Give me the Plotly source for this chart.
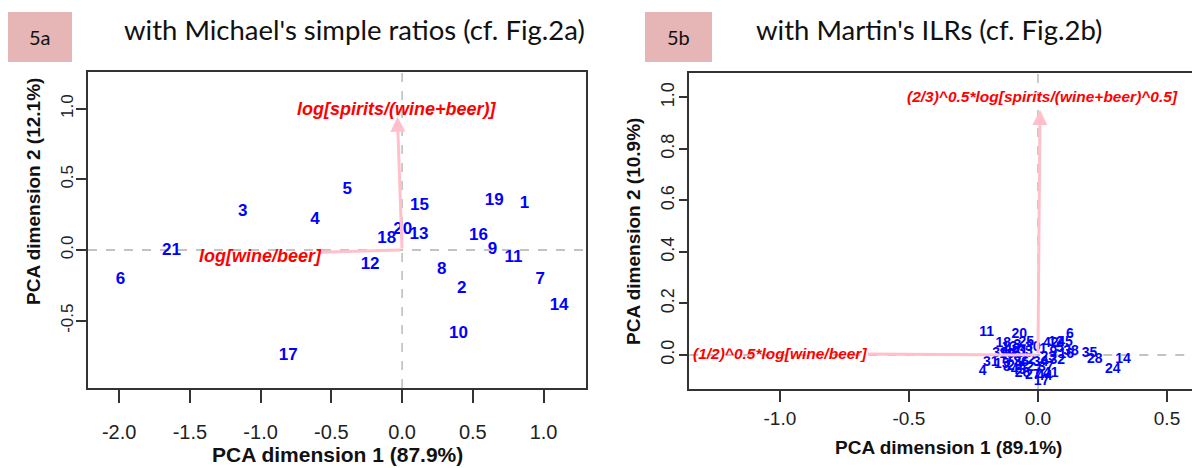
import plotly.graph_objects as go

# ---------------- data: panel 5a (simple ratios) ----------------
a_labels = ["1", "2", "3", "4", "5", "6", "7", "8", "9", "10", "11",
            "12", "13", "14", "15", "16", "17", "18", "19", "20", "21"]
a_pc1 = [0.865, 0.422, -1.127, -0.615, -0.387, -1.99, 0.976, 0.281, 0.639, 0.398, 0.787,
         -0.226, 0.12, 1.11, 0.123, 0.54, -0.804, -0.108, 0.651, 0.005, -1.63]
a_pc2 = [0.33, -0.271, 0.271, 0.212, 0.424, -0.212, -0.207, -0.137, 0.0, -0.589, -0.054,
         -0.106, 0.106, -0.394, 0.313, 0.099, -0.75, 0.078, 0.349, 0.141, -0.007]
a_var_names = ["log[wine/beer]", "log[spirits/(wine+beer)]"]
a_var_tip_x = [-0.58, -0.033]
a_var_tip_y = [-0.016, 0.943]
a_var_lab_x = [-1.0, -0.033]
a_var_lab_y = [-0.04, 0.995]

# ---------------- data: panel 5b (ILRs) ----------------
b_labels = ["11", "20", "18", "39", "31", "4", "35", "28", "14", "24", "6", "17",
            "26", "27", "15",
            "25", "13", "3", "19", "10", "21", "33", "8", "29", "36", "22", "40", "43", "2", "30",
            "42", "12", "45", "38", "16", "5", "9", "1", "23", "32", "34", "37", "41", "44", "7"]
b_pc1 = [-0.199, -0.072, -0.134, -0.147, -0.183, -0.214, 0.2, 0.22, 0.33, 0.29, 0.124, 0.014,
         -0.06, -0.02, -0.14,
         -0.045, -0.11, -0.08, -0.12, -0.095, -0.07, -0.05, -0.12, -0.09, -0.065, -0.04, -0.1,
         -0.075, -0.03, -0.02,
         0.05, 0.07, 0.105, 0.128, 0.11, 0.085, 0.06, 0.02, 0.04, 0.075, 0.01, 0.03, 0.05, 0.025, 0.0]
b_pc2 = [0.087, 0.078, 0.045, 0.007, -0.03, -0.065, 0.007, -0.019, -0.019, -0.058, 0.078, -0.104,
         -0.07, -0.078, -0.035,
         0.05, 0.03, 0.035, 0.0, -0.01, 0.01, 0.015, -0.05, -0.045, -0.03, -0.02, 0.02, -0.06,
         -0.05, 0.03,
         0.045, 0.05, 0.05, 0.012, 0.0, 0.025, 0.01, 0.02, -0.01, -0.02, -0.03, -0.05, -0.07,
         -0.085, -0.06]
b_var_names = ["(1/2)^0.5*log[wine/beer]", "(2/3)^0.5*log[spirits/(wine+beer)^0.5]"]
b_var_tip_x = [-0.66, 0.008]
b_var_tip_y = [0.004, 0.951]
b_var_lab_x = [-0.998, 0.016]
b_var_lab_y = [0.004, 1.002]

titles = ["with Michael's simple ratios (cf. Fig.2a)", "with Martin's ILRs (cf. Fig.2b)"]
panel_tags = ["5a", "5b"]
x_titles = ["PCA dimension 1 (87.9%)", "PCA dimension 1 (89.1%)"]
y_titles = ["PCA dimension 2 (12.1%)", "PCA dimension 2 (10.9%)"]

W, H = 1192, 468
FONT = "Liberation Sans, Arial, sans-serif"
TFONT = "Lato, Open Sans, sans-serif"
PINK = "#FFC0CB"
BLUE = "#0000FF"
RED = "#FF0000"
AXC = "#333333"

fig = go.Figure()

fig.add_trace(go.Scatter(x=a_pc1, y=a_pc2, text=a_labels, mode="text", xaxis="x", yaxis="y",
                         textfont=dict(family=FONT, size=17, color=BLUE, weight="bold"),
                         hoverinfo="skip", showlegend=False))
fig.add_trace(go.Scatter(x=b_pc1, y=b_pc2, text=b_labels, mode="text", xaxis="x2", yaxis="y2",
                         textfont=dict(family=FONT, size=14, color=BLUE, weight="bold"),
                         hoverinfo="skip", showlegend=False))

# domains (pixel-based)
lx0, lx1, ly0, ly1 = 88 / W, 586 / W, 1 - 388 / H, 1 - 72 / H
rx0, rx1, ry0, ry1 = 689.3 / W, 1.0, 1 - 389 / H, 1 - 72.7 / H


def axis_style(size, tlen=12, standoff=None):
    d = dict(showgrid=False, zeroline=False, showline=True, linecolor=AXC, linewidth=1.5,
             ticks="outside", ticklen=tlen, tickcolor=AXC, tickwidth=1.5, automargin=False,
             tickfont=dict(family=FONT, size=size, color="#222222"))
    if standoff is not None:
        d["ticklabelstandoff"] = standoff
    return d


fig.update_layout(
    width=W, height=H, margin=dict(l=0, r=0, t=0, b=0, pad=0, autoexpand=False),
    paper_bgcolor="white", plot_bgcolor="white",
    xaxis=dict(domain=[lx0, lx1], range=[-2.22, 1.30], tickvals=[-2, -1.5, -1, -0.5, 0, 0.5, 1],
               ticktext=["-2.0", "-1.5", "-1.0", "-0.5", "0.0", "0.5", "1.0"], mirror=True,
               anchor="y", **axis_style(20, 13, 12)),
    yaxis=dict(domain=[ly0, ly1], range=[-0.976, 1.259], tickvals=[-0.5, 0, 0.5, 1],
               ticktext=["-0.5", "0.0", "0.5", "1.0"], tickangle=-90, mirror=True,
               anchor="x", **axis_style(17, 10, -4)),
    xaxis2=dict(domain=[rx0, rx1], range=[-1.351, (1192 - 1038) / 258], tickvals=[-1, -0.5, 0, 0.5],
                ticktext=["-1.0", "-0.5", "0.0", "0.5"], mirror=True, anchor="y2",
                **axis_style(19, 11)),
    yaxis2=dict(domain=[ry0, ry1], range=[-0.132, 1.096], tickvals=[0, 0.2, 0.4, 0.6, 0.8, 1.0],
                ticktext=["0.0", "0.2", "0.4", "0.6", "0.8", "1.0"], tickangle=-90, mirror=False,
                anchor="x2", **axis_style(18, 9, -3)),
)

shapes = []
# dashed zero lines
for xa, ya in (("x", "y"), ("x2", "y2")):
    shapes.append(dict(type="line", xref=xa, yref=ya + " domain", x0=0, x1=0, y0=0, y1=1,
                       line=dict(color="#B0B0B0", width=1.3, dash="dash"), layer="below"))
    shapes.append(dict(type="line", xref=xa + " domain", yref=ya, x0=0, x1=1, y0=0, y1=0,
                       line=dict(color="#B0B0B0", width=1.3, dash="dash"), layer="below"))
# panel tag boxes
shapes.append(dict(type="rect", xref="paper", yref="paper", x0=8 / W, x1=72 / W,
                   y0=1 - 62 / H, y1=1 - 12 / H, fillcolor="#E6B5B5", line=dict(width=0)))
shapes.append(dict(type="rect", xref="paper", yref="paper", x0=645 / W, x1=712 / W,
                   y0=1 - 62 / H, y1=1 - 12 / H, fillcolor="#E6B5B5", line=dict(width=0)))
fig.update_layout(shapes=shapes)

ann = []
# arrows (horizontal ones end under their label, so no visible head)
for xa, ya, tx, ty in (("x", "y", a_var_tip_x, a_var_tip_y), ("x2", "y2", b_var_tip_x, b_var_tip_y)):
    for i in range(2):
        ann.append(dict(x=tx[i], y=ty[i], ax=0, ay=0, xref=xa, yref=ya, axref=xa, ayref=ya,
                        showarrow=True, arrowhead=(0 if i == 0 else 2), arrowsize=1, arrowwidth=3,
                        arrowcolor=PINK, text=""))
# variable labels
for xa, ya, names, lx, ly, sz in (("x", "y", a_var_names, a_var_lab_x, a_var_lab_y, 18),
                                   ("x2", "y2", b_var_names, b_var_lab_x, b_var_lab_y, 15.5)):
    for i in range(2):
        ann.append(dict(x=lx[i], y=ly[i], xref=xa, yref=ya, text=names[i], showarrow=False,
                        xanchor="center", yanchor="middle",
                        font=dict(family=FONT, size=sz, color=RED, weight="bold", style="italic")))


def paper_text(px, py, text, font, angle=0):
    return dict(x=px / W, y=1 - py / H, xref="paper", yref="paper", text=text, showarrow=False,
                xanchor="center", yanchor="middle", textangle=angle, font=font)


ann.append(paper_text(40, 37, panel_tags[0], dict(family=TFONT, size=20, color="#111111")))
ann.append(paper_text(678, 37, panel_tags[1], dict(family=TFONT, size=20, color="#111111")))
ann.append(paper_text(354, 30, titles[0], dict(family=TFONT, size=27.5, color="#111111")))
ann.append(paper_text(929, 30, titles[1], dict(family=TFONT, size=27.5, color="#111111")))
ann.append(paper_text(337, 454, x_titles[0], dict(family=FONT, size=21, color="#111111", weight="bold")))
ann.append(paper_text(948, 447, x_titles[1], dict(family=FONT, size=19, color="#111111", weight="bold")))
ann.append(paper_text(33, 192, y_titles[0], dict(family=FONT, size=19, color="#111111", weight="bold"), -90))
ann.append(paper_text(633, 232, y_titles[1], dict(family=FONT, size=19, color="#111111", weight="bold"), -90))
fig.update_layout(annotations=ann)

fig.write_html("out.html", config={"displayModeBar": False},
               post_script="document.body.style.margin='0';document.body.style.overflow='hidden';")
